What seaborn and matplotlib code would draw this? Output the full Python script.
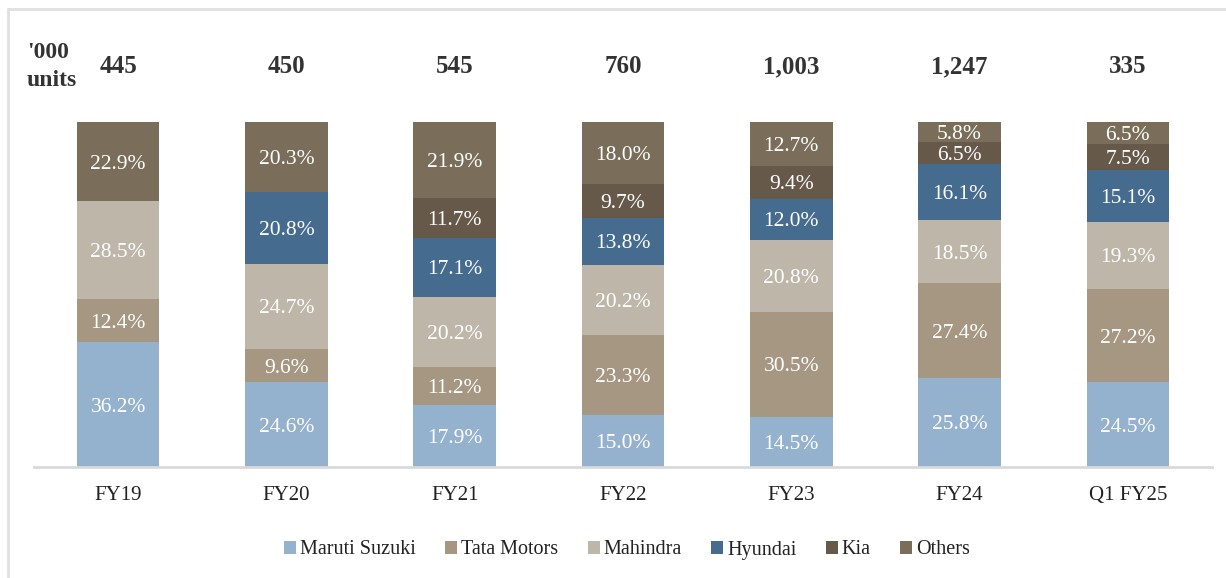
import matplotlib
matplotlib.use("Agg")
import matplotlib.pyplot as plt
import seaborn as sns
import pandas as pd
import numpy as np
from matplotlib.lines import Line2D
from matplotlib.patches import Patch

categories = ["FY19", "FY20", "FY21", "FY22", "FY23", "FY24", "Q1 FY25"]
totals = ["445", "450", "545", "760", "1,003", "1,247", "335"]
maruti = [36.2, 24.6, 17.9, 15.0, 14.5, 25.8, 24.5]
tata = [12.4, 9.6, 11.2, 23.3, 30.5, 27.4, 27.2]
mahindra = [28.5, 24.7, 20.2, 20.2, 20.8, 18.5, 19.3]
hyundai = [0.0, 20.8, 17.1, 13.8, 12.0, 16.1, 15.1]
kia = [0.0, 0.0, 11.7, 9.7, 9.4, 6.5, 7.5]
others = [22.9, 20.3, 21.9, 18.0, 12.7, 5.8, 6.5]

series_names = ["Maruti Suzuki", "Tata Motors", "Mahindra", "Hyundai", "Kia", "Others"]
series_vals = [maruti, tata, mahindra, hyundai, kia, others]
colors = ["#94b2cd", "#a69783", "#bfb6aa", "#456b8f", "#67594a", "#7a6e5a"]

sns.set_theme(style="white")
plt.rcParams["font.family"] = ["Liberation Serif", "DejaVu Serif"]

fig = plt.figure(figsize=(12.26, 5.78), dpi=100)
ax = fig.add_axes([34 / 1226, 1 - 467 / 578, (1212 - 34) / 1226, (467 - 122) / 578])

bottom = np.zeros(len(categories))
for name, vals, col in zip(series_names, series_vals, colors):
    df = pd.DataFrame({"cat": categories, "val": vals})
    sns.barplot(data=df, x="cat", y="val", color=col, ax=ax, width=0.49,
                bottom=bottom, order=categories, saturation=1, linewidth=0, errorbar=None)
    for i, v in enumerate(vals):
        if v > 0:
            ax.text(i, bottom[i] + v / 2, f"{v:.1f}%", ha="center", va="center_baseline",
                    color="white", fontsize=15.5)
    bottom = bottom + np.array(vals)

ax.set_xlim(-0.5, len(categories) - 0.5)
ax.set_ylim(0, 100)
ax.set_xlabel("")
ax.set_ylabel("")
ax.set_yticks([])
for s in ["top", "right", "left"]:
    ax.spines[s].set_visible(False)
ax.spines["bottom"].set_color("#d9d9d9")
ax.spines["bottom"].set_linewidth(2)
ax.tick_params(axis="x", length=0, pad=14, labelsize=15, labelcolor="#222222")

for i, t in enumerate(totals):
    ax.text(i, 116.0, t, ha="center", va="center", fontsize=18, fontweight="bold",
            color="#333333", clip_on=False)

fig.text(27 / 1226, 1 - 52 / 578, "'000", fontsize=17, fontweight="bold",
         color="#333333", ha="left", va="center")
fig.text(27 / 1226, 1 - 81 / 578, "units", fontsize=17, fontweight="bold",
         color="#333333", ha="left", va="center")

handles = [Patch(facecolor=c, edgecolor="none") for c in colors]
fig.legend(handles, series_names, loc="center", bbox_to_anchor=(627 / 1226, 1 - 550 / 578),
           ncol=6, frameon=False, fontsize=14.5, handlelength=0.6, handleheight=0.6,
           handletextpad=0.2, columnspacing=1.45, labelcolor="#222222")

# light frame lines (left and top)
fig.add_artist(Line2D([8 / 1226, 8 / 1226], [0, 1 - 9 / 578], transform=fig.transFigure,
                      color="#e0e0e0", linewidth=2))
fig.add_artist(Line2D([8 / 1226, 1], [1 - 9 / 578, 1 - 9 / 578], transform=fig.transFigure,
                      color="#e0e0e0", linewidth=2))

fig.savefig("out.png", dpi=100)
